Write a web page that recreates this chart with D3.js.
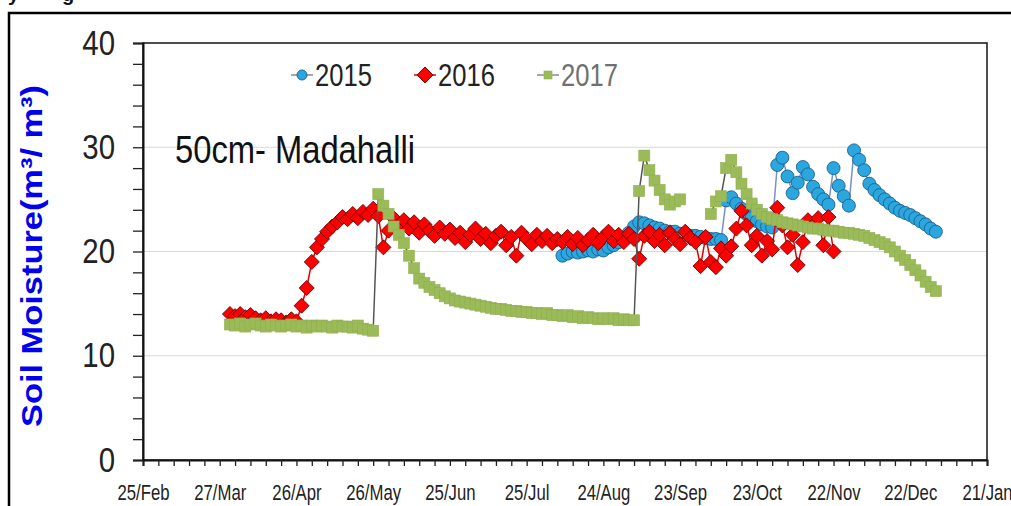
<!DOCTYPE html>
<html><head><meta charset="utf-8">
<script src="https://cdn.jsdelivr.net/npm/d3@7"></script>
<style>body{margin:0;background:#fff;} svg{display:block}</style>
</head><body>
<svg id="c" width="1011" height="506"></svg>
<script>
// ---------- data ----------
const xTickLabels = ["25/Feb","27/Mar","26/Apr","26/May","25/Jun","25/Jul","24/Aug","23/Sep","23/Oct","22/Nov","22/Dec","21/Jan"];
const yTickLabels = [0,10,20,30,40];
const seriesNames = ["2015","2016","2017"];
const chartTitle = "50cm- Madahalli";
const yTitle = "Soil Moisture(m\u00B3/ m\u00B3)";
const stepDays = 2;

const start2015 = "2017-08-08";
const values2015 = [19.6,19.8,20.0,19.9,20.0,20.1,20.0,20.2,20.1,20.4,20.6,20.9,21.3,21.8,22.4,22.8,22.7,22.5,22.3,22.2,22.0,21.9,21.9,21.7,21.6,21.5,21.5,21.4,21.3,21.2,21.2,21.1,
  24.9,25.2,24.6,24.1,23.6,23.2,22.9,22.6,22.4,22.3,
  28.3,29.0,27.2,25.6,26.6,28.1,27.4,26.2,25.5,25.0,24.5,
  28.0,26.3,25.3,24.4,
  29.7,28.8,27.8,26.5,25.9,25.4,25.0,24.6,24.2,23.9,23.7,23.5,23.2,22.9,22.6,22.2,21.9];

const start2016 = "2017-03-31";
const values2016 = [14.0,13.8,14.0,13.7,13.9,13.6,13.4,13.6,13.3,13.5,13.4,13.2,13.5,13.3,
  14.8,16.5,19.0,20.4,21.2,21.9,22.4,22.8,23.3,23.1,23.6,23.2,23.8,23.5,24.1,23.4,
  20.4,22.0,23.2,22.5,23.0,22.2,22.8,21.8,22.6,22.0,21.5,22.3,21.7,22.1,21.3,21.8,20.9,21.6,22.2,21.2,21.7,20.8,21.5,21.9,20.6,
  21.4,19.6,21.8,21.2,20.7,21.6,21.0,21.5,20.8,21.2,20.9,21.4,20.7,21.3,20.6,21.1,21.6,20.8,21.4,21.9,21.0,21.6,20.9,21.7,21.2,
  19.3,21.5,21.9,21.0,21.6,20.6,21.8,21.2,20.7,21.9,21.3,20.9,18.6,21.4,19.0,18.5,20.3,19.6,20.5,
  22.2,23.9,22.5,20.6,21.5,19.6,21.0,20.2,24.2,22.5,20.4,21.6,18.7,20.9,23.0,22.5,23.2,20.6,23.3,20.0];

const start2017 = "2017-03-31";
const values2017 = [13.0,12.9,13.1,12.8,13.0,13.1,12.9,12.8,13.0,12.9,12.8,12.9,13.0,12.8,12.9,12.7,12.9,12.8,12.9,12.8,12.7,12.9,12.8,12.8,12.7,12.9,12.6,12.5,12.4,
  25.5,
  24.4,23.6,22.4,21.6,20.8,19.6,18.4,17.4,17.0,16.6,16.3,16.0,15.7,15.5,
  15.3,15.2,15.1,15.0,14.9,14.8,14.7,14.6,14.5,14.5,14.4,14.3,14.3,14.2,14.2,14.1,14.1,14.0,14.1,13.9,13.9,13.8,13.9,13.7,13.8,13.6,13.7,13.6,13.5,13.6,13.5,13.6,13.4,13.5,13.4,13.4,
  25.8,29.2,27.8,26.8,25.9,25.0,24.5,24.8,25.0,
  null,null,null,null,null,
  23.6,24.8,25.3,28.0,28.8,27.6,26.5,25.5,24.6,24.0,23.6,23.3,23.1,23.0,22.8,22.7,22.6,22.5,
  22.4,22.3,22.2,22.2,22.1,22.0,22.0,21.9,21.8,21.8,21.7,21.6,21.5,21.3,21.1,20.9,20.7,20.4,20.0,19.6,19.2,18.7,18.2,17.7,17.1,16.6,16.2];

// ---------- chart ----------
const svg = d3.select("#c");
const W = 1011, H = 506;
const L = 143, R = 987, T = 43, B = 460;
const parse = d3.timeParse("%Y-%m-%d");
const d0 = parse("2017-02-25"), d1 = parse("2018-01-21");
const x = d3.scaleTime().domain([d0, d1]).range([L, R]);
const y = d3.scaleLinear().domain([0, 40]).range([B, T]);
const font = "'Liberation Sans',Arial,sans-serif";

// squeeze a text horizontally (narrow face look)
function squeeze(sel, f) {
  sel.each(function () {
    const t = this.textContent;
    if (!t) return;
    const w = this.getComputedTextLength();
    d3.select(this).attr("textLength", w * f).attr("lengthAdjust", "spacingAndGlyphs");
  });
}

svg.append("rect").attr("width", W).attr("height", H).attr("fill", "#fff");

// outer frame (top & left visible)
svg.append("path").attr("d", `M9,${H+5} L9,13 L${W+5},13`).attr("fill", "none")
  .attr("stroke", "#000").attr("stroke-width", 2.5);
// cropped caption fragments at the very top
svg.append("text").attr("x", 8).attr("y", 1).attr("font-family", font).attr("font-weight", "bold")
  .attr("font-size", 20).attr("fill", "#111").text("y");
svg.append("text").attr("x", 62).attr("y", 1).attr("font-family", font).attr("font-weight", "bold")
  .attr("font-size", 20).attr("fill", "#111").text("g");

// gridlines
svg.append("g").selectAll("line").data(yTickLabels.filter(v => v > 0 && v < 40)).join("line")
  .attr("x1", L).attr("x2", R).attr("y1", d => y(d)).attr("y2", d => y(d))
  .attr("stroke", "#d9d9d9").attr("stroke-width", 1);

// plot box
svg.append("rect").attr("x", L).attr("y", T).attr("width", R - L).attr("height", B - T)
  .attr("fill", "none").attr("stroke", "#222").attr("stroke-width", 1.6);

// x axis
const xTickDates = d3.range(0, 331, 6).map(d => d3.timeDay.offset(d0, d));
const xAxis = d3.axisBottom(x).tickValues(xTickDates).tickSize(6).tickPadding(18)
  .tickFormat((d, i) => (i * 6) % 30 === 0 ? xTickLabels[(i * 6) / 30] : "");
const gx = svg.append("g").attr("transform", `translate(0,${B})`).call(xAxis);
gx.select(".domain").attr("stroke", "#111").attr("stroke-width", 2);
gx.selectAll(".tick line").attr("stroke", "#222").attr("stroke-width", 1.3);
gx.selectAll("text").attr("font-family", font).attr("font-size", 22).attr("fill", "#222");
squeeze(gx.selectAll("text"), 0.76);

// y axis
const yAxis = d3.axisLeft(y).tickValues(d3.range(0, 41, 2)).tickSize(10).tickPadding(18)
  .tickFormat(d => yTickLabels.includes(d) ? String(d) : "");
const gy = svg.append("g").attr("transform", `translate(${L},0)`).call(yAxis);
gy.select(".domain").attr("stroke", "#111").attr("stroke-width", 2);
gy.selectAll(".tick line").attr("stroke", "#222").attr("stroke-width", 1.3);
gy.selectAll("text").attr("font-family", font).attr("font-size", 35).attr("fill", "#222");
squeeze(gy.selectAll("text"), 0.84);

// y title
svg.append("text").attr("transform", "translate(42,256) rotate(-90)")
  .attr("text-anchor", "middle").attr("font-family", font).attr("font-weight", "bold")
  .attr("font-size", 29).attr("fill", "#0000ee")
  .attr("textLength", 342).attr("lengthAdjust", "spacingAndGlyphs").text(yTitle);

// chart title
svg.append("text").attr("x", 175).attr("y", 163).attr("font-family", font)
  .attr("font-size", 38).attr("fill", "#111").attr("textLength", 240)
  .attr("lengthAdjust", "spacingAndGlyphs").text(chartTitle);

// series
function build(start, values) {
  const s = parse(start);
  return values.map((v, i) => ({ date: d3.timeDay.offset(s, i * stepDays), v }));
}
const diamond = r => `M0,${-r}L${r},0L0,${r}L${-r},0Z`;
const styles = [
  { name: seriesNames[0], data: build(start2015, values2015), line: "#7b8fc9",
    draw: (g, r) => g.append("circle").attr("r", r).attr("fill", "#2aa7df").attr("stroke", "#1d5f8c").attr("stroke-width", 0.9), r: 6.5, lr: 5 },
  { name: seriesNames[1], data: build(start2016, values2016), line: "#e00000",
    draw: (g, r) => g.append("path").attr("d", diamond(r)).attr("fill", "#ff0000").attr("stroke", "#6a0000").attr("stroke-width", 0.9), r: 7.5, lr: 8 },
  { name: seriesNames[2], data: build(start2017, values2017), line: "#555",
    draw: (g, r) => g.append("rect").attr("x", -r).attr("y", -r).attr("width", 2 * r).attr("height", 2 * r).attr("fill", "#9bbb59").attr("stroke", "#8fae50").attr("stroke-width", 0.6), r: 5.5, lr: 4 }
];

const line = d3.line().defined(d => d.v != null).x(d => x(d.date)).y(d => y(d.v));
styles.forEach(s => {
  const g = svg.append("g");
  g.append("path").datum(s.data).attr("d", line).attr("fill", "none")
    .attr("stroke", s.line).attr("stroke-width", 1.5);
  s.data.filter(d => d.v != null).forEach(d => {
    const m = g.append("g").attr("transform", `translate(${x(d.date)},${y(d.v)})`);
    s.draw(m, s.r);
  });
});

// legend
const legendX = [302, 425, 548];
const legendColors = ["#222", "#222", "#707070"];
styles.forEach((s, i) => {
  const g = svg.append("g").attr("transform", `translate(${legendX[i]},75)`);
  g.append("line").attr("x1", -11).attr("x2", 11).attr("stroke", i === 1 ? "#e00000" : "#888").attr("stroke-width", 1.5);
  s.draw(g, s.lr);
  const t = g.append("text").attr("x", 13).attr("y", 11).attr("font-family", font).attr("font-size", 32)
    .attr("fill", legendColors[i]).text(s.name);
  squeeze(t, 0.8);
});
</script>
</body></html>
